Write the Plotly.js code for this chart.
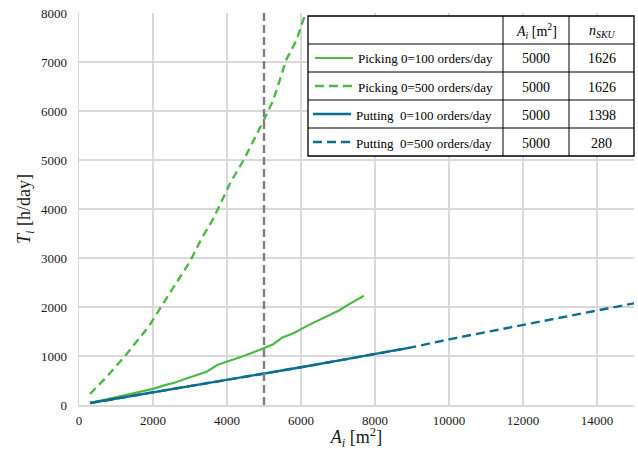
<!DOCTYPE html>
<html>
<head>
<meta charset="utf-8">
<script src="https://cdn.plot.ly/plotly-3.0.1.min.js"></script>
<style>html,body{margin:0;padding:0;background:#fff;}#chart{width:638px;height:450px;}</style>
</head>
<body>
<div id="chart"></div>
<script>
// ---- data ----
var pick100A = [300, 600, 900, 1200, 1500, 1800, 2000, 2300, 2600, 2900, 3200, 3450, 3750, 4000, 4350, 4700, 5000, 5250, 5500, 5800, 6150, 6450, 6800, 7050, 7350, 7700];
var pick100T = [40, 90, 140, 190, 240, 295, 330, 400, 460, 540, 610, 680, 820, 880, 975, 1070, 1170, 1240, 1380, 1465, 1610, 1720, 1850, 1940, 2080, 2230];

var pick500A = [300, 800, 1300, 1900, 2300, 2600, 3000, 3300, 3600, 3850, 4100, 4450, 4750, 5000, 5250, 5450, 5600, 5880, 6150];
var pick500T = [225, 620, 1050, 1620, 2100, 2450, 2930, 3380, 3760, 4150, 4550, 5000, 5430, 5820, 6220, 6700, 7040, 7450, 8060];

var put100A = [300, 2000, 4000, 5000, 6000, 7000, 8000, 8950];
var put100T = [40, 255, 515, 635, 770, 905, 1040, 1170];

var put500A = [300, 2000, 4000, 5000, 6000, 7000, 8000, 8950, 10000, 11000, 12000, 13000, 14000, 15000];
var put500T = [40, 255, 515, 635, 770, 905, 1040, 1170, 1340, 1485, 1630, 1775, 1920, 2075];

var refArea = 5000;
var yMax = 8000;

var seriesNames = ['Picking 0=100 orders/day', 'Picking 0=500 orders/day', 'Putting\u00a0 0=100 orders/day', 'Putting\u00a0 0=500 orders/day'];
var tableA = ['5000', '5000', '5000', '5000'];
var tableN = ['1626', '1626', '1398', '280'];

var xTicks = [0, 2000, 4000, 6000, 8000, 10000, 12000, 14000];
var yTicks = [0, 1000, 2000, 3000, 4000, 5000, 6000, 7000, 8000];

// ---- styles ----
var green = '#4db848';
var blue = '#0d6d8e';
var gray = '#7f7f7f';
var serif = 'Liberation Serif';

var traces = [
  {x: pick100A, y: pick100T, mode: 'lines', line: {color: green, width: 2.2}, name: seriesNames[0]},
  {x: pick500A, y: pick500T, mode: 'lines', line: {color: green, width: 2.4, dash: '8px,5px'}, name: seriesNames[1]},
  {x: put500A, y: put500T, mode: 'lines', line: {color: blue, width: 2.4, dash: '9px,5px'}, name: seriesNames[3]},
  {x: put100A, y: put100T, mode: 'lines', line: {color: blue, width: 2.4}, name: seriesNames[2]},
  {x: [refArea, refArea], y: [0, yMax], mode: 'lines', line: {color: gray, width: 2.4, dash: '8px,4px'}, name: 'ref'}
];

// pixel -> paper helpers (plot area: left 79, right 634, top 13, bottom 405)
var L = 79, R = 634, T = 13, B = 405;
function X(p) { return (p - L) / (R - L); }
function Y(p) { return (B - p) / (B - T); }

var tl = 308, tr = 634, tt = 16, tb = 156;
var cols = [503, 569];
var rows = [44, 72, 100, 128];
var rowC = [58, 86, 114, 142];

var shapes = [];
shapes.push({type: 'rect', xref: 'paper', yref: 'paper', x0: X(tl), x1: X(tr), y0: Y(tb), y1: Y(tt),
  fillcolor: '#ffffff', line: {color: '#000000', width: 1.3}});
cols.forEach(function (c) {
  shapes.push({type: 'line', xref: 'paper', yref: 'paper', x0: X(c), x1: X(c), y0: Y(tb), y1: Y(tt), line: {color: '#000', width: 1}});
});
rows.forEach(function (r) {
  shapes.push({type: 'line', xref: 'paper', yref: 'paper', x0: X(tl), x1: X(tr), y0: Y(r), y1: Y(r), line: {color: '#000', width: 1}});
});
var sampleCfg = [
  {x0: 315, x1: 353, c: green, d: 'solid', w: 2.2},
  {x0: 315, x1: 353, c: green, d: '9px,5px', w: 2.4},
  {x0: 313, x1: 351, c: blue, d: 'solid', w: 2.4},
  {x0: 313, x1: 351, c: blue, d: '9px,5px', w: 2.4}
];
sampleCfg.forEach(function (s, i) {
  shapes.push({type: 'line', xref: 'paper', yref: 'paper', x0: X(s.x0), x1: X(s.x1), y0: Y(rowC[i]), y1: Y(rowC[i]),
    line: {color: s.c, width: s.w, dash: s.d}});
});

var annotations = [];
var f = {family: serif, size: 13, color: '#000'};
var f14 = {family: serif, size: 14, color: '#000'};
annotations.push({xref: 'paper', yref: 'paper', x: X((cols[0] + cols[1]) / 2), y: Y(31), showarrow: false,
  text: '<i>A</i><sub><i>i</i></sub> [m<sup>2</sup>]', font: f14, xanchor: 'center', yanchor: 'middle'});
annotations.push({xref: 'paper', yref: 'paper', x: X((cols[1] + tr) / 2), y: Y(31), showarrow: false,
  text: '<i>n</i><sub><i>SKU</i></sub>', font: f14, xanchor: 'center', yanchor: 'middle'});
seriesNames.forEach(function (n, i) {
  annotations.push({xref: 'paper', yref: 'paper', x: X(i < 2 ? 356 : 354), y: Y(rowC[i] + 1), showarrow: false,
    text: n, font: f, xanchor: 'left', yanchor: 'middle'});
  annotations.push({xref: 'paper', yref: 'paper', x: X((cols[0] + cols[1]) / 2), y: Y(rowC[i] + 1), showarrow: false,
    text: tableA[i], font: f14, xanchor: 'center', yanchor: 'middle'});
  annotations.push({xref: 'paper', yref: 'paper', x: X((cols[1] + tr) / 2), y: Y(rowC[i] + 1), showarrow: false,
    text: tableN[i], font: f14, xanchor: 'center', yanchor: 'middle'});
});

var layout = {
  width: 638, height: 450,
  margin: {l: L, r: 638 - R, t: T, b: 450 - B},
  paper_bgcolor: '#fff', plot_bgcolor: '#fff',
  showlegend: false,
  font: {family: serif, size: 13, color: '#1a1a1a'},
  xaxis: {
    range: [0, 15000], tickvals: xTicks, ticktext: xTicks.map(String),
    showgrid: true, gridcolor: '#d9d9d9', gridwidth: 1.3, zeroline: false,
    showline: true, linecolor: '#d9d9d9', linewidth: 1.5,
    ticks: '', ticklabelstandoff: 3,
    tickfont: {family: serif, size: 13, color: '#1a1a1a'},
    title: {text: '<i>A</i><sub><i>i</i></sub> [m<sup>2</sup>]', font: {family: serif, size: 18, color: '#1a1a1a'}, standoff: 10},
    automargin: false
  },
  yaxis: {
    range: [0, yMax], tickvals: yTicks, ticktext: yTicks.map(String),
    showgrid: true, gridcolor: '#d9d9d9', gridwidth: 1.3, zeroline: false,
    showline: true, linecolor: '#d9d9d9', linewidth: 1.5,
    ticks: '', ticklabelstandoff: 8,
    tickfont: {family: serif, size: 13, color: '#1a1a1a'},
    title: {text: '<i>T</i><sub><i>i</i></sub> [h/day]', font: {family: serif, size: 18, color: '#1a1a1a'}, standoff: 5},
    automargin: false
  },
  shapes: shapes,
  annotations: annotations
};

Plotly.newPlot('chart', traces, layout, {displayModeBar: false, staticPlot: true});
</script>
</body>
</html>
